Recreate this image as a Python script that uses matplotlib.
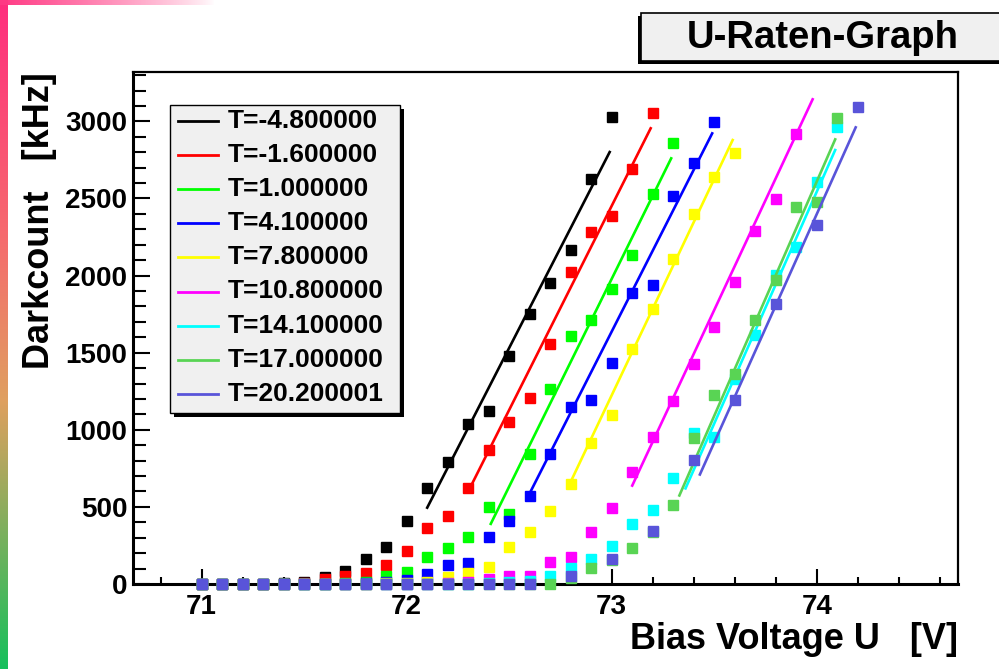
import numpy as np
import matplotlib
matplotlib.use("Agg")
import matplotlib.pyplot as plt
from matplotlib.patches import Rectangle
from matplotlib.lines import Line2D
from matplotlib.ticker import MultipleLocator
from matplotlib.colors import LinearSegmentedColormap, to_rgb

plt.rcParams['font.family'] = ['Liberation Sans', 'DejaVu Sans']
plt.rcParams['font.weight'] = 'bold'

nan = np.nan

# ---------------- data ----------------
voltage = [71.0, 71.1, 71.2, 71.3, 71.4, 71.5, 71.6, 71.7, 71.8, 71.9,
           72.0, 72.1, 72.2, 72.3, 72.4, 72.5, 72.6, 72.7, 72.8, 72.9,
           73.0, 73.1, 73.2, 73.3, 73.4, 73.5, 73.6, 73.7, 73.8, 73.9,
           74.0, 74.1, 74.2]

legend_labels = ["T=-4.800000", "T=-1.600000", "T=1.000000", "T=4.100000",
                 "T=7.800000", "T=10.800000", "T=14.100000", "T=17.000000",
                 "T=20.200001"]
colors = ["#000000", "#ff0000", "#00ff00", "#0000ff", "#ffff00",
          "#ff00ff", "#00ffff", "#59d454", "#5954d9"]

rate_m4_8 = [0, 0, 0, 0, 5, 12, 45, 87, 162, 238, 410, 622, 790, 1040, 1121,
             1480, 1753, 1950, 2165, 2628, 3025]
rate_m1_6 = [0, 0, 0, 0, 0, 8, 30, 54, 69, 122, 212, 360, 440, 620, 870, 1052,
             1204, 1556, 2021, 2282, 2388, 2694, 3057]
rate_1_0 = [0, 0, 0, 0, 0, 0, 3, 8, 12, 54, 80, 173, 234, 303, 502, 456, 840,
            1266, 1608, 1710, 1916, 2136, 2526, 2857]
rate_4_1 = [0, 0, 0, 0, 0, 0, 0, 3, 5, 10, 25, 65, 121, 136, 303, 411, 573,
            844, 1147, 1195, 1432, 1885, 1937, 2517, 2730, 2997]
rate_7_8 = [0, 0, 0, 0, 0, 0, 0, 0, 2, 4, 8, 12, 43, 69, 108, 242, 340, 476,
            649, 913, 1093, 1526, 1786, 2110, 2398, 2636, 2796]
rate_10_8 = [0, 0, 0, 0, 0, 0, 0, 0, 0, 0, 0, 3, 8, 15, 32, 54, 54, 140, 173,
             340, 491, 729, 956, 1185, 1429, 1666, 1958, 2288, 2495, 2916]
rate_14_1 = [0, 0, 0, 0, 0, 0, 0, 0, 0, 0, 0, 0, 0, 3, 6, 12, 20, 54, 104, 162,
             244, 390, 480, 688, 978, 956, 1330, 1612, 2002, 2186, 2608, 2965]
rate_17_0 = [0, 0, 0, 0, 0, 0, 0, 0, 0, 0, 0, 0, 0, 0, 0, 0, 0, 2, 40, 104,
             155, 231, 340, 515, 945, 1223, 1359, 1714, 1974, 2442, 2478, 3019]
rate_20_2 = [0, 0, 0, 0, 0, 0, 0, 0, 0, 0, 0, 0, 0, 0, 0, 0, 0, nan, 50, nan,
             160, nan, 346, nan, 801, nan, 1190, nan, 1814, nan, 2327, nan, 3095]

rates = [rate_m4_8, rate_m1_6, rate_1_0, rate_4_1, rate_7_8,
         rate_10_8, rate_14_1, rate_17_0, rate_20_2]

# linear fit lines (start/end voltage and rate)
fit_v_start = [72.10, 72.30, 72.41, 72.59, 72.79, 73.10, 73.36, 73.33, 73.43]
fit_v_end = [72.99, 73.19, 73.29, 73.49, 73.59, 73.98, 74.09, 74.09, 74.19]
fit_r_start = [495, 600, 390, 562, 635, 638, 620, 574, 710]
fit_r_end = [2801, 2955, 2760, 2922, 2879, 3143, 2814, 2883, 2961]

title = "U-Raten-Graph"
x_title = "Bias Voltage U   [V]"
y_title = "Darkcount   [kHz]"

# ---------------- figure ----------------
W, H = 999, 669
fig = plt.figure(figsize=(W / 100, H / 100), dpi=100)
fig.patch.set_facecolor('white')

# background axes in pixel coordinates (y downwards)
bg = fig.add_axes([0, 0, 1, 1], zorder=0)
bg.axis('off')

cm_left = LinearSegmentedColormap.from_list(
    'l', [(0, '#ff2d7e'), (0.35, '#f66a6e'), (0.6, '#dfa060'), (1, '#16c05c')])
grad = np.linspace(0, 1, 256).reshape(-1, 1)
bg.imshow(grad, cmap=cm_left, extent=(0, 8, H, 0), aspect='auto',
          interpolation='bilinear')
top_rgba = np.zeros((1, 256, 4))
top_rgba[..., :3] = to_rgb('#ff3a84')
top_rgba[..., 3] = np.linspace(1, 0, 256) ** 0.8
bg.imshow(top_rgba, extent=(0, 215, 5, 0), aspect='auto',
          interpolation='bilinear')
bg.set_xlim(0, W)
bg.set_ylim(H, 0)

# main axes
L, R, T, B = 133, 958, 72, 584
ax = fig.add_axes([L / W, 1 - B / H, (R - L) / W, (B - T) / H], zorder=1)
ax.set_xlim(70.665, 74.689)
ax.set_ylim(0, 3320)

for i in range(len(rates)):
    n = len(rates[i])
    ax.plot(voltage[:n], rates[i], ls='none', marker='s', ms=6.6,
            color=colors[i], mec=colors[i], clip_on=False, zorder=3 + i * 0.1)
    ax.plot([fit_v_start[i], fit_v_end[i]], [fit_r_start[i], fit_r_end[i]],
            color=colors[i], lw=1.9, zorder=3 + i * 0.1)

for s in ['left', 'bottom']:
    ax.spines[s].set_linewidth(2.2)
for s in ['top', 'right']:
    ax.spines[s].set_linewidth(1.6)

ax.xaxis.set_major_locator(MultipleLocator(1))
ax.xaxis.set_minor_locator(MultipleLocator(0.2))
ax.yaxis.set_major_locator(MultipleLocator(500))
ax.yaxis.set_minor_locator(MultipleLocator(100))
ax.tick_params(which='both', direction='in', top=False, right=False,
               width=1.5, labelsize=20)
ax.tick_params(axis='x', which='major', length=11, pad=7)
ax.tick_params(axis='x', which='minor', length=5)
ax.tick_params(axis='y', which='major', length=12, pad=4)
ax.tick_params(axis='y', which='minor', length=9.5)

ax.set_xlabel(x_title, loc='right', fontsize=26, fontweight='bold')
ax.xaxis.set_label_coords(1.0, -0.075)
ax.set_ylabel(y_title, loc='top', fontsize=26, fontweight='bold')
ax.yaxis.label.set_va('center')
ax.yaxis.set_label_coords(-0.113, 1.0)

# overlay axes for title box and legend
ov = fig.add_axes([0, 0, 1, 1], zorder=5)
ov.set_xlim(0, W)
ov.set_ylim(H, 0)
ov.axis('off')

# title box with shadow
ov.add_patch(Rectangle((638, 16), 400, 48, facecolor='black', edgecolor='none'))
ov.add_patch(Rectangle((641, 13), 400, 48, facecolor='#f0f0f0',
                       edgecolor='black', lw=1.2))
ov.text(823, 37.5, title, ha='center', va='center', fontsize=27.5,
        fontweight='bold')

# legend box with shadow
lx0, ly0, lx1, ly1 = 169.5, 104.5, 400, 412.5
ov.add_patch(Rectangle((lx0 + 4, ly0 + 4), lx1 - lx0, ly1 - ly0,
                       facecolor='black', edgecolor='none'))
ov.add_patch(Rectangle((lx0, ly0), lx1 - lx0, ly1 - ly0, facecolor='#f0f0f0',
                       edgecolor='black', lw=1.0))
for i, lab in enumerate(legend_labels):
    yy = 121 + i * 34.1
    ov.add_line(Line2D([178, 218], [yy, yy], color=colors[i], lw=2.0))
    ov.text(228, yy, lab, ha='left', va='center', fontsize=19,
            fontweight='bold')

fig.savefig('out.png', dpi=100)
